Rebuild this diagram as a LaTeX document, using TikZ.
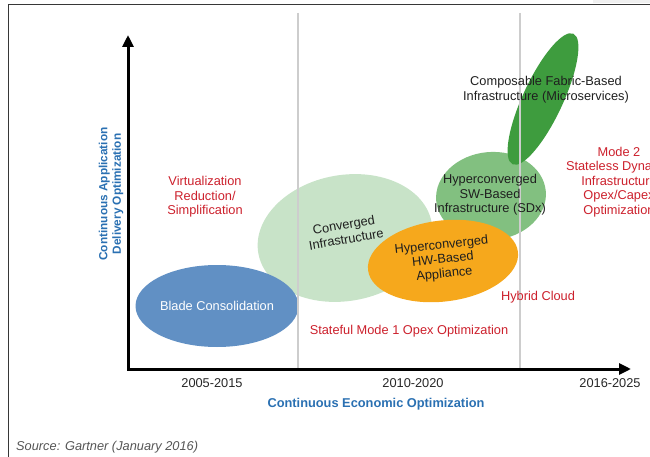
\documentclass[tikz,border=0pt]{standalone}
\usepackage{fontspec}
\setmainfont{Liberation Sans}
\usetikzlibrary{arrows.meta,shapes.geometric}

\definecolor{bladeblue}{RGB}{97,144,196}
\definecolor{convgreen}{RGB}{200,227,200}
\definecolor{hworange}{RGB}{246,168,28}
\definecolor{swgreen}{RGB}{130,192,128}
\definecolor{fabgreen}{RGB}{62,156,62}
\definecolor{modered}{RGB}{204,32,44}
\definecolor{axisblue}{RGB}{42,112,178}
\definecolor{guide}{RGB}{205,205,205}
\definecolor{frameline}{RGB}{55,55,55}
\definecolor{srcgrey}{RGB}{85,85,85}

\begin{document}
\begin{tikzpicture}[x=1pt,y=-1pt,
  blob/.style={ellipse, draw=none, inner sep=0pt},
  body/.style={font=\fontsize{12.8}{14.5}\selectfont, align=center, inner sep=0pt},
  dark/.style={body, text=black!88},
  note/.style={body, text=modered},
  axislabel/.style={font=\fontsize{12.8}{14.5}\selectfont\bfseries, text=axisblue, align=center, inner sep=0pt},
  year/.style={body, text=black!85},
  axisline/.style={line width=3pt, black,
    {Triangle[length=12pt,width=11pt]}-{Triangle[length=12pt,width=11pt]}},
  guideline/.style={guide, line width=1.3pt}]
\useasboundingbox (0,0) rectangle (650,457);
\clip (0,0) rectangle (650,457);

% outer frame
\fill[gray!12] (593,0) rectangle (650,3);
\draw[frameline, line width=1.6pt] (8.5,460) -- (8.5,4.5) -- (655,4.5);

% technology ellipses, back to front
\node[blob, fill=swgreen, minimum width=110pt, minimum height=88pt, rotate=5] (sw) at (491,196) {};
\node[blob, fill=fabgreen, minimum width=144pt, minimum height=40pt, rotate=65] (fab) at (543,99) {};
\node[blob, fill=convgreen, minimum width=176pt, minimum height=126pt, rotate=10] (conv) at (345,238) {};
\node[blob, fill=bladeblue, minimum width=163pt, minimum height=82pt] (blade) at (217,306) {};
\node[blob, fill=hworange, minimum width=151pt, minimum height=81pt, rotate=7] (hw) at (443,261) {};

% period guides
\coordinate (g1top) at (298,13);
\coordinate (g1bot) at (298,369);
\coordinate (g2top) at (520,13);
\coordinate (g2bot) at (520,369);
\draw[guideline] (g1top) -- (g1bot);
\draw[guideline] (g2top) -- (g2bot);

% axes
\coordinate (origin) at (128,369);
\coordinate (ytip) at (128,35);
\coordinate (xtip) at (631,369);
\draw[axisline] (ytip) -- (origin) -- (xtip);

% ellipse labels
\node[dark] (fabtxt) at (546,89.5) {Composable Fabric-Based\\Infrastructure (Microservices)};
\node[dark] (swtxt) at (490,195) {Hyperconverged\\SW-Based\\Infrastructure (SDx)};
\node[dark, rotate=6] (hwtxt) at (443,260) {Hyperconverged\\HW-Based\\Appliance};
\node[dark, rotate=10] (convtxt) at (345,232) {Converged\\Infrastructure};
\node[body, text=white] (bladetxt) at (217,306) {Blade Consolidation};

% mode annotations
\node[note] (virt) at (205,197) {Virtualization\\Reduction/\\Simplification};
\node[note] (mode1) at (409,331) {Stateful Mode 1 Opex Optimization};
\node[note] (hybrid) at (538,297) {Hybrid Cloud};
\node[note] (mode2) at (619,182) {Mode 2\\Stateless Dynamic\\Infrastructure\\Opex/Capex\\Optimization};

% axis captions
\node[year] (y1) at (212,383) {2005-2015};
\node[year] (y2) at (413,383) {2010-2020};
\node[year] (y3) at (610,383) {2016-2025};
\node[axislabel] (xlab) at (376,404) {Continuous Economic Optimization};
\node[axislabel, font=\fontsize{11.8}{13.5}\selectfont\bfseries, rotate=90] (ylab) at (111,194) {Continuous Application\\Delivery Optimization};

% source line
\node[anchor=west, inner sep=0pt, text=srcgrey, font=\fontsize{12.8}{14.5}\selectfont\itshape] (src) at (16,447) {Source: Gartner (January 2016)};
\end{tikzpicture}
\end{document}
